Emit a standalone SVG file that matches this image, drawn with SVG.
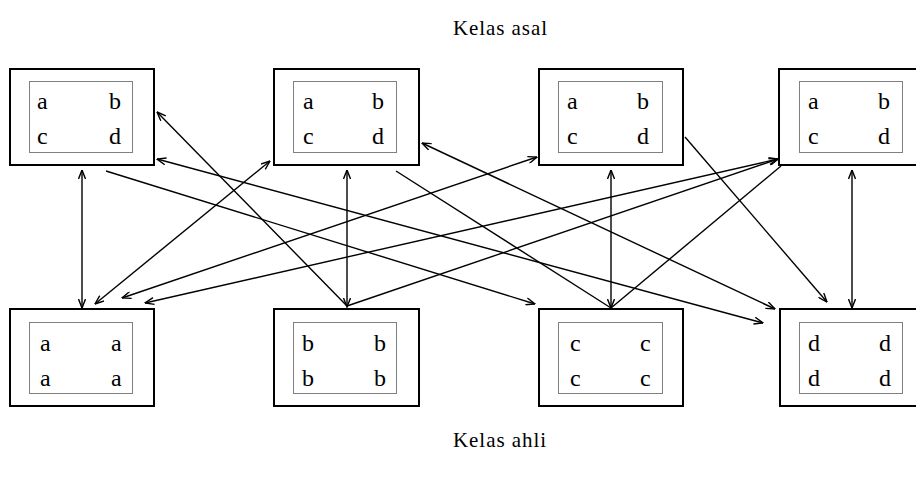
<svg xmlns="http://www.w3.org/2000/svg" width="916" height="479" viewBox="0 0 916 479">
<defs>
<marker id="ah" viewBox="0 0 10 8" refX="9.5" refY="4" markerWidth="10" markerHeight="8" markerUnits="userSpaceOnUse" orient="auto-start-reverse">
<path d="M0.5,0.5 L9.5,4 L0.5,7.5" fill="none" stroke="#000" stroke-width="1.4"/>
</marker>
<style>
.box{fill:#fff;stroke:#000;stroke-width:2}
.in{fill:none;stroke:#000;stroke-width:1;stroke-dasharray:1 1}
.t{font-family:"Liberation Serif",serif;font-size:24px;fill:#000}
.title{font-family:"Liberation Serif",serif;font-size:21px;fill:#000}
.c line{stroke:#000;stroke-width:1.4}
.d{marker-start:url(#ah);marker-end:url(#ah)}
.e{marker-end:url(#ah)}
</style>
</defs>
<rect width="916" height="479" fill="#fff"/>
<text class="title" x="453" y="35" textLength="94" lengthAdjust="spacing">Kelas asal</text>
<text class="title" x="453" y="447" textLength="93" lengthAdjust="spacing">Kelas ahli</text>

<g id="asal1"><rect class="box" x="10" y="69" width="144" height="96"/><rect class="in" x="29.5" y="81.5" width="103" height="71"/>
<text class="t" x="37" y="109">a</text><text class="t" x="109" y="109">b</text><text class="t" x="37" y="144">c</text><text class="t" x="109" y="144">d</text></g>
<g id="asal2"><rect class="box" x="274" y="69" width="145" height="96"/><rect class="in" x="293.5" y="81.5" width="103" height="71"/>
<text class="t" x="303" y="109">a</text><text class="t" x="372" y="109">b</text><text class="t" x="303" y="144">c</text><text class="t" x="372" y="144">d</text></g>
<g id="asal3"><rect class="box" x="539" y="69" width="144" height="96"/><rect class="in" x="558.5" y="81.5" width="104" height="71"/>
<text class="t" x="567" y="109">a</text><text class="t" x="637" y="109">b</text><text class="t" x="567" y="144">c</text><text class="t" x="637" y="144">d</text></g>
<g id="asal4"><rect class="box" x="779" y="69" width="144" height="96"/><rect class="in" x="799.5" y="81.5" width="103" height="71"/>
<text class="t" x="808" y="109">a</text><text class="t" x="878" y="109">b</text><text class="t" x="808" y="144">c</text><text class="t" x="878" y="144">d</text></g>

<g id="ahli1"><rect class="box" x="10" y="309" width="144" height="97"/><rect class="in" x="29.5" y="322.5" width="103" height="71"/>
<text class="t" x="40" y="351">a</text><text class="t" x="111" y="351">a</text><text class="t" x="40" y="386">a</text><text class="t" x="111" y="386">a</text></g>
<g id="ahli2"><rect class="box" x="274" y="309" width="145" height="97"/><rect class="in" x="293.5" y="322.5" width="103" height="71"/>
<text class="t" x="302" y="351">b</text><text class="t" x="374" y="351">b</text><text class="t" x="302" y="386">b</text><text class="t" x="374" y="386">b</text></g>
<g id="ahli3"><rect class="box" x="539" y="309" width="144" height="97"/><rect class="in" x="558.5" y="322.5" width="104" height="71"/>
<text class="t" x="570" y="351">c</text><text class="t" x="640" y="351">c</text><text class="t" x="570" y="386">c</text><text class="t" x="640" y="386">c</text></g>
<g id="ahli4"><rect class="box" x="780" y="309" width="144" height="97"/><rect class="in" x="799.5" y="322.5" width="103" height="71"/>
<text class="t" x="808" y="351">d</text><text class="t" x="879" y="351">d</text><text class="t" x="808" y="386">d</text><text class="t" x="879" y="386">d</text></g>

<g id="connectors" class="c">
<line class="d" x1="82" y1="170" x2="82" y2="308"/>
<line class="d" x1="347" y1="170" x2="347" y2="307"/>
<line class="d" x1="611" y1="170" x2="611" y2="308"/>
<line class="d" x1="852" y1="170" x2="852" y2="308"/>
<line class="e" x1="347" y1="306" x2="157" y2="112"/>
<line class="e" x1="106" y1="171" x2="535" y2="304"/>
<line class="d" x1="157" y1="159" x2="763" y2="323"/>
<line class="d" x1="270" y1="161" x2="95" y2="304"/>
<line x1="396" y1="171" x2="611" y2="308"/>
<line class="d" x1="422" y1="143" x2="775" y2="309"/>
<line class="d" x1="537" y1="157" x2="122" y2="298"/>
<line class="e" x1="685" y1="137" x2="827" y2="302"/>
<line class="d" x1="778" y1="159" x2="145" y2="303"/>
<line class="e" x1="347" y1="306" x2="778" y2="159"/>
<line x1="781" y1="166" x2="611" y2="308"/>
</g>
</svg>
